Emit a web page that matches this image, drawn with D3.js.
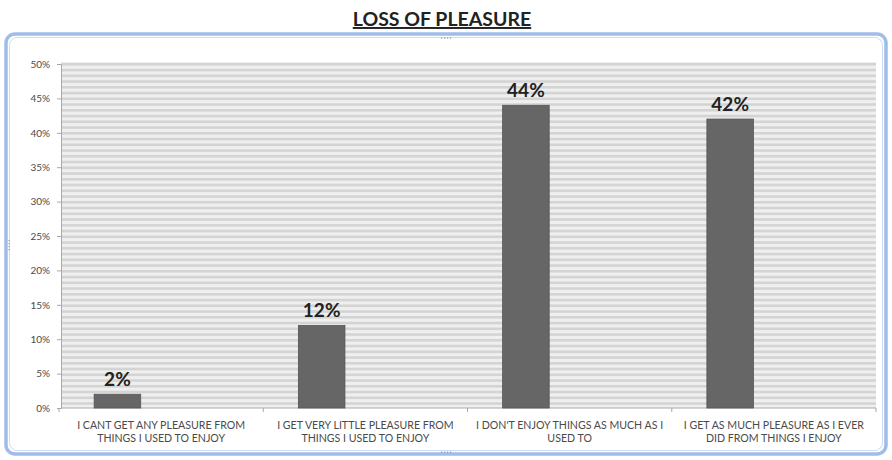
<!DOCTYPE html>
<html><head><meta charset="utf-8">
<script src="https://cdn.jsdelivr.net/npm/d3@7"></script>
<style>
html,body{margin:0;padding:0;background:#fff;}
svg{display:block;}
</style></head>
<body>
<svg id="chart" width="892" height="460"></svg>
<script>
const title = "LOSS OF PLEASURE";
const categories = [
  ["I CANT GET ANY PLEASURE FROM", "THINGS I USED TO ENJOY"],
  ["I GET VERY LITTLE PLEASURE FROM", "THINGS I USED TO ENJOY"],
  ["I DON'T ENJOY THINGS AS MUCH AS I", "USED TO"],
  ["I GET AS MUCH PLEASURE AS I EVER", "DID FROM THINGS I ENJOY"]
];
const values = [0.02, 0.12, 0.44, 0.42];
const valueLabels = ["2%", "12%", "44%", "42%"];
const yTicks = [0, 0.05, 0.10, 0.15, 0.20, 0.25, 0.30, 0.35, 0.40, 0.45, 0.50];

const svg = d3.select("#chart");
const font = "Lato, 'Open Sans', sans-serif";

// frame (chart area with selection border)
svg.append("rect").attr("x", 6).attr("y", 34).attr("width", 880).attr("height", 420)
  .attr("rx", 9).attr("fill", "#fff").attr("stroke", "#9fbde8").attr("stroke-width", 3.5);
svg.append("rect").attr("x", 9.5).attr("y", 37.5).attr("width", 873).attr("height", 413)
  .attr("rx", 8).attr("fill", "none").attr("stroke", "#cddcf3").attr("stroke-width", 1);

// handles
function handle(cx, cy, vertical) {
  const g = svg.append("g").attr("fill", "#7f9cc8");
  for (let i = 0; i < 4; i++) {
    g.append("rect")
      .attr("x", vertical ? cx - 0.5 : cx - 5 + i * 3)
      .attr("y", vertical ? cy - 5 + i * 3 : cy - 0.5)
      .attr("width", 1.2).attr("height", 1.2);
  }
}
handle(446, 38, false);
handle(446, 452, false);
handle(9, 245, true);

// title
svg.append("text").attr("x", 442).attr("y", 26).attr("text-anchor", "middle")
  .attr("font-family", font).attr("font-weight", "bold").attr("font-size", 19.5)
  .attr("fill", "#222").attr("text-decoration", "underline").text(title);

const pLeft = 61, pRight = 876, pTop = 64, pBottom = 408;
const y = d3.scaleLinear().domain([0, 0.5]).range([pBottom, pTop]);
const x = d3.scaleBand().domain(d3.range(categories.length)).range([59, pRight]).padding(0);

// striped plot area
svg.append("rect").attr("x", pLeft).attr("y", pTop - 2).attr("width", pRight - pLeft)
  .attr("height", pBottom - pTop + 2).attr("fill", "#efefef");
const stripeG = svg.append("g");
d3.range(pTop - 1, pBottom, 5.75).forEach(yy => {
  stripeG.append("rect").attr("x", pLeft).attr("y", yy).attr("width", pRight - pLeft)
    .attr("height", 2.6).attr("fill", "#d4d4d4");
});

// y axis
const yAxis = d3.axisLeft(y).tickValues(yTicks).tickFormat(d3.format(".0%")).tickSize(4).tickPadding(7);
const ya = svg.append("g").attr("transform", `translate(${pLeft},0)`).call(yAxis);
ya.select(".domain").attr("stroke", "#a8a8a8");
ya.selectAll(".tick line").attr("stroke", "#a8a8a8");
ya.selectAll("text").attr("font-family", font).attr("font-size", 10).attr("fill", "#4a4a4a");

// x axis
const xa = svg.append("g").attr("transform", `translate(0,${pBottom})`);
xa.append("line").attr("x1", pLeft).attr("x2", pRight).attr("stroke", "#a8a8a8");
[...x.domain().map(d => x(d)), pRight].forEach(px => {
  xa.append("line").attr("x1", px).attr("x2", px).attr("y1", 0).attr("y2", 4).attr("stroke", "#a8a8a8");
});
categories.forEach((lines, i) => {
  const t = xa.append("text").attr("text-anchor", "middle").attr("font-family", font)
    .attr("font-size", 10.6).attr("fill", "#4a4a4a");
  lines.forEach((ln, j) => {
    t.append("tspan").attr("x", x(i) + x.bandwidth() / 2).attr("y", 21 + j * 12.5).text(ln);
  });
});

// bars
const bw = x.bandwidth();
svg.append("g").selectAll("rect").data(values).join("rect")
  .attr("x", (d, i) => x(i) + bw * 0.172)
  .attr("width", bw * 0.228)
  .attr("y", d => y(d))
  .attr("height", d => pBottom - y(d))
  .attr("fill", "#666666").attr("stroke", "#555").attr("stroke-width", 0.8);

svg.append("g").selectAll("text").data(values).join("text")
  .attr("x", (d, i) => x(i) + bw * 0.172 + bw * 0.114)
  .attr("y", d => y(d) - 8)
  .attr("text-anchor", "middle").attr("font-family", font).attr("font-weight", "bold")
  .attr("font-size", 19).attr("fill", "#222")
  .text((d, i) => valueLabels[i]);
</script>
</body></html>
